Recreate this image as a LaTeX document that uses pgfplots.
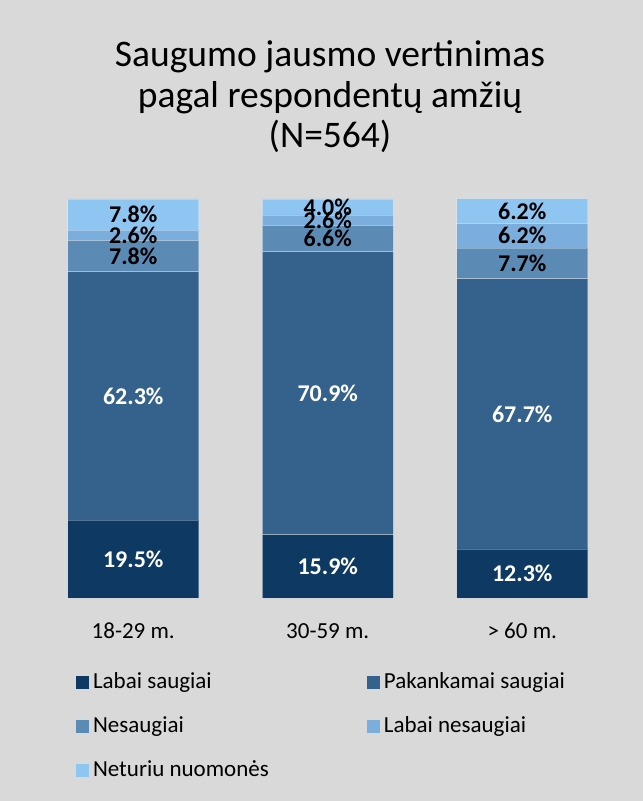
\documentclass[border=0pt]{standalone}
\usepackage{pgfplots}
\pgfplotsset{compat=1.18}
\usepackage{fontspec}
\setmainfont{Carlito}
\definecolor{bgc}{RGB}{217,217,217}
\definecolor{c1}{RGB}{13,57,98}
\definecolor{c2}{RGB}{53,98,140}
\definecolor{c3}{RGB}{91,138,180}
\definecolor{c4}{RGB}{123,174,220}
\definecolor{c5}{RGB}{142,197,241}
\begin{document}
\begin{tikzpicture}
\fill[bgc] (0pt,0pt) rectangle (643pt,801pt);
\node[anchor=base,font=\fontsize{37.5}{42}\selectfont] at (330pt,734pt) {Saugumo jausmo vertinimas};
\node[anchor=base,font=\fontsize{37.5}{42}\selectfont] at (330pt,693.5pt) {pagal respondentų amžių};
\node[anchor=base,font=\fontsize{37.5}{42}\selectfont] at (330pt,653pt) {(N=564)};
\begin{axis}[
  at={(36pt,203pt)}, anchor=south west,
  scale only axis, width=583.5pt, height=399pt,
  ybar stacked, bar width=131pt,
  xmin=-0.5, xmax=2.5, ymin=0, ymax=100,
  clip=false,
  axis line style={draw=none},
  major tick length=0pt,
  ytick=\empty,
  xtick={0,1,2},
  xticklabels={18-29 m.,30-59 m.,> 60 m.},
  xticklabel style={anchor=base, yshift=-40pt, font=\fontsize{23}{27}\selectfont},
  /pgf/number format/assume math mode=true,
  nodes near coords={\pgfmathprintnumber[fixed,fixed zerofill,precision=1]{\pgfplotspointmeta}\%},
  every node near coord/.append style={font=\fontsize{24}{28}\selectfont\bfseries, anchor=center},
  legend columns=2,
  legend cell align=left,
  legend image code/.code={\fill[#1,draw=none] (0pt,-6.5pt) rectangle (13pt,6.5pt);},
  legend style={
    at={(0.0686,-0.1867)}, anchor=north west,
    draw=none, fill=none, inner sep=0pt, outer sep=0pt,
    font=\fontsize{23}{27}\selectfont,
    nodes={inner sep=0pt, text height=16pt, text depth=5pt},
    row sep=23pt,
    /tikz/every odd column/.append style={column sep=4pt},
    /tikz/every even column/.append style={column sep=98pt},
  },
]
\addplot[fill=c1, draw=white, draw opacity=0.3, line width=0.8pt, every node near coord/.append style={text=white}] coordinates {(0,19.5) (1,15.9) (2,12.3)};
\addplot[fill=c2, draw=white, draw opacity=0.3, line width=0.8pt, every node near coord/.append style={text=white}] coordinates {(0,62.3) (1,70.9) (2,67.7)};
\addplot[fill=c3, draw=white, draw opacity=0.3, line width=0.8pt, every node near coord/.append style={text=black}] coordinates {(0,7.8) (1,6.6) (2,7.7)};
\addplot[fill=c4, draw=white, draw opacity=0.3, line width=0.8pt, every node near coord/.append style={text=black}] coordinates {(0,2.6) (1,2.6) (2,6.2)};
\addplot[fill=c5, draw=white, draw opacity=0.3, line width=0.8pt, every node near coord/.append style={text=black}] coordinates {(0,7.8) (1,4.0) (2,6.2)};
\legend{Labai saugiai,Pakankamai saugiai,Nesaugiai,Labai nesaugiai,Neturiu nuomonės}
\end{axis}
\end{tikzpicture}
\end{document}
